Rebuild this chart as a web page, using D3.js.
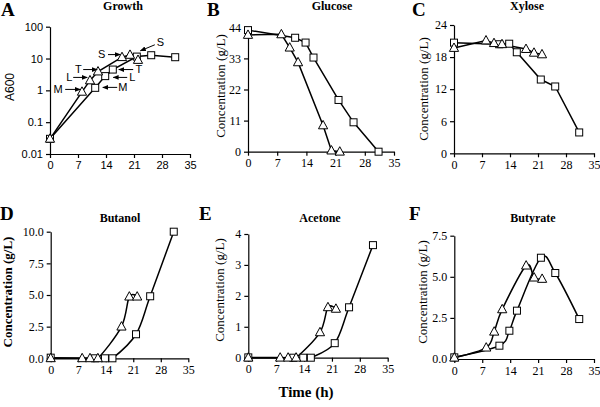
<!DOCTYPE html>
<html>
<head>
<meta charset="utf-8">
<script src="https://cdn.jsdelivr.net/npm/d3@7"></script>
<style>
  body { margin: 0; background: #fff; }
  svg { display: block; }
</style>
</head>
<body>
<div id="chart"></div>
<script>
// sampling times (h) for the two strains
var triTime = [0, 8, 10, 12, 18, 20, 22];
var sqTime = [0, 11.3, 13.8, 15.7, 21.7, 25.3, 31.3];

var growthTri = [0.03, 0.9, 2.05, 3.9, 11, 13, 9];
var growthSq = [0.03, 1.2, 2.8, 4.5, 11.5, 12.7, 11];
var glucoseTri = [41.3, 41.5, 36.8, 31.6, 9.3, 0.4, 0];
var glucoseSq = [43, 40.3, 38.6, 33.3, 18.3, 10.4, 0];
var xyloseTri = [19.7, 21.1, 20.6, 20.4, 19.5, 18.8, 18.5];
var xyloseSq = [20.7, 20.4, 20.5, 18.9, 13.8, 12.5, 3.9];
var butanolTri = [0, 0, 0, 0, 2.5, 4.87, 4.87];
var butanolSq = [0.05, 0, 0, 0, 1.9, 4.9, 10.0];
var acetoneTri = [0, 0, 0, 0, 0.82, 1.63, 1.58];
var acetoneSq = [0.01, 0, 0, 0, 0.47, 1.63, 3.64];
var butyrateTri = [0.08, 0.69, 1.66, 3.02, 5.68, 4.95, 4.87];
var butyrateSq = [0.1, 0.81, 1.72, 2.94, 6.16, 5.23, 2.43];

var timeTicks = [0, 7, 14, 21, 28, 35];
var growthTicks = [0.01, 0.1, 1, 10, 100];
var glucoseTicks = [0, 11, 22, 33, 44];
var xyloseTicks = [0, 6, 12, 18, 24];
var butanolTicks = [0, 2.5, 5, 7.5, 10];
var acetoneTicks = [0, 1, 2, 3, 4];
var butyrateTicks = [0, 2.5, 5, 7.5];

// growth-phase arrows: label, arrow from (x0,y0) to (x1,y1) in h / A600
var growthNotes = [
    {t: "S", tx: 12.9, ty: 13.3, x0: 14.5, x1: 17.6, y0: 13.3, y1: 13.3},
    {t: "S", tx: 27.6, ty: 32, x0: 26.2, x1: 22.6, y0: 27, y1: 17.5},
    {t: "T", tx: 7.1, ty: 4.5, x0: 8.3, x1: 11.8, y0: 4.5, y1: 4.5},
    {t: "T", tx: 22.2, ty: 4.5, x0: 20.8, x1: 17.2, y0: 4.5, y1: 4.5},
    {t: "L", tx: 4.8, ty: 2.55, x0: 5.8, x1: 9.3, y0: 2.55, y1: 2.55},
    {t: "L", tx: 20.6, ty: 2.55, x0: 19.3, x1: 15.8, y0: 2.55, y1: 2.55},
    {t: "M", tx: 2.0, ty: 1.07, x0: 3.8, x1: 7.6, y0: 1.07, y1: 1.07},
    {t: "M", tx: 18.2, ty: 1.24, x0: 16.8, x1: 13.2, y0: 1.24, y1: 1.24}
];

var serif = "'Liberation Serif', 'Times New Roman', serif";
var sans = "'Liberation Sans', Arial, sans-serif";

var panels = [
    {letter: "A", title: "Growth", tri: growthTri, sq: growthSq, ticks: growthTicks, log: true,
     x: [50, 190], y: [154, 26.7], dom: [0.01, 100], lx: 10, ly: 87, tx: 123, ty: 10, ylab: "A600"},
    {letter: "B", title: "Glucose", tri: glucoseTri, sq: glucoseSq, ticks: glucoseTicks,
     x: [248, 394], y: [151.7, 27.3], dom: [0, 44], lx: 220, ly: 86, tx: 332, ty: 10},
    {letter: "C", title: "Xylose", tri: xyloseTri, sq: xyloseSq, ticks: xyloseTicks,
     x: [454, 594], y: [153.3, 25], dom: [0, 24], lx: 423, ly: 89, tx: 527, ty: 10},
    {letter: "D", title: "Butanol", tri: butanolTri, sq: butanolSq, ticks: butanolTicks, smooth: true, fmt: ".1f",
     x: [50.7, 188.3], y: [358.3, 231.7], dom: [0, 10], lx: 7, ly: 292, tx: 120, ty: 222, boldLab: true},
    {letter: "E", title: "Acetone", tri: acetoneTri, sq: acetoneSq, ticks: acetoneTicks, smooth: true,
     x: [248.3, 387.7], y: [357.7, 234], dom: [0, 4], lx: 219, ly: 290, tx: 320, ty: 222},
    {letter: "F", title: "Butyrate", tri: butyrateTri, sq: butyrateSq, ticks: butyrateTicks, smooth: true, fmt: ".1f",
     x: [454.3, 594], y: [359, 235.7], dom: [0, 7.5], lx: 422, ly: 292, tx: 533, ty: 222}
];
var letterPos = {A: [1, 16], B: [207, 16], C: [412, 16], D: [0, 220], E: [199, 220], F: [409, 220]};

var svg = d3.select("#chart").append("svg")
    .attr("width", 600)
    .attr("height", 407);
svg.append("rect").attr("width", 600).attr("height", 407).attr("fill", "#fff");

svg.append("defs").append("marker")
    .attr("id", "arrow")
    .attr("viewBox", "0 0 10 10")
    .attr("refX", 9).attr("refY", 5)
    .attr("markerWidth", 6).attr("markerHeight", 6)
    .attr("orient", "auto")
    .append("path")
    .attr("d", "M0,1L10,5L0,9Z")
    .attr("fill", "#000");

var triPath = "M0,-5L4.6,3.4L-4.6,3.4Z";

panels.forEach(function (p) {
    var x = d3.scaleLinear().domain([0, 35]).range(p.x);
    var y = (p.log ? d3.scaleLog() : d3.scaleLinear()).domain(p.dom).range(p.y);
    var font = p.log ? sans : serif;
    var g = svg.append("g");

    var xAxis = g.append("g")
        .attr("transform", "translate(0," + p.y[0] + ")")
        .call(d3.axisBottom(x).tickValues(timeTicks).tickSize(4).tickSizeOuter(0).tickPadding(3));
    var yAxis = g.append("g")
        .attr("transform", "translate(" + p.x[0] + ",0)")
        .call(d3.axisLeft(y).tickValues(p.ticks).tickSize(4).tickSizeOuter(0).tickPadding(3)
            .tickFormat(p.log ? function (d) { return String(d); } : d3.format(p.fmt || "d")));
    [xAxis, yAxis].forEach(function (a) {
        a.selectAll("text").attr("font-family", font).attr("font-size", p.log ? 11 : 12).attr("fill", "#000");
        a.selectAll("line, path").attr("stroke", "#000").attr("stroke-width", 1.2);
    });

    g.append("text")
        .attr("x", p.tx).attr("y", p.ty)
        .attr("text-anchor", "middle")
        .attr("font-family", serif).attr("font-weight", "bold").attr("font-size", 12)
        .text(p.title);
    g.append("text")
        .attr("x", letterPos[p.letter][0]).attr("y", letterPos[p.letter][1])
        .attr("font-family", serif).attr("font-weight", "bold").attr("font-size", 19)
        .text(p.letter);
    g.append("text")
        .attr("transform", "translate(" + p.lx + "," + p.ly + ") rotate(-90)")
        .attr("text-anchor", "middle")
        .attr("dy", "0.35em")
        .attr("font-family", p.log ? sans : serif)
        .attr("font-weight", p.boldLab ? "bold" : "normal")
        .attr("font-size", p.log ? 12 : 13)
        .text(p.ylab || "Concentration (g/L)");

    var line = d3.line()
        .x(function (d) { return x(d[0]); })
        .y(function (d) { return y(d[1]); })
        .curve(p.smooth ? d3.curveCatmullRom.alpha(0) : d3.curveLinear);
    var triPts = triTime.map(function (t, i) { return [t, p.tri[i]]; });
    var sqPts = sqTime.map(function (t, i) { return [t, p.sq[i]]; });

    [triPts, sqPts].forEach(function (pts) {
        g.append("path")
            .attr("d", line(pts))
            .attr("fill", "none")
            .attr("stroke", "#000")
            .attr("stroke-width", 1.5);
    });
    g.selectAll(".sq").data(sqPts).enter().append("rect")
        .attr("x", function (d) { return x(d[0]) - 3.5; })
        .attr("y", function (d) { return y(d[1]) - 3.5; })
        .attr("width", 7).attr("height", 7)
        .attr("fill", "#fff").attr("stroke", "#000").attr("stroke-width", 1);
    g.selectAll(".tri").data(triPts).enter().append("path")
        .attr("d", triPath)
        .attr("transform", function (d) { return "translate(" + x(d[0]) + "," + y(d[1]) + ")"; })
        .attr("fill", "#fff").attr("stroke", "#000").attr("stroke-width", 1);

    if (p.log) {
        growthNotes.forEach(function (n) {
            g.append("line")
                .attr("x1", x(n.x0)).attr("y1", y(n.y0))
                .attr("x2", x(n.x1)).attr("y2", y(n.y1))
                .attr("stroke", "#000").attr("stroke-width", 1)
                .attr("marker-end", "url(#arrow)");
            g.append("text")
                .attr("x", x(n.tx)).attr("y", y(n.ty))
                .attr("dy", "0.35em")
                .attr("text-anchor", "middle")
                .attr("font-family", sans).attr("font-size", 11)
                .text(n.t);
        });
    }
});

svg.append("text")
    .attr("x", 306).attr("y", 397)
    .attr("text-anchor", "middle")
    .attr("font-family", serif).attr("font-weight", "bold").attr("font-size", 15)
    .text("Time (h)");
</script>
</body>
</html>
